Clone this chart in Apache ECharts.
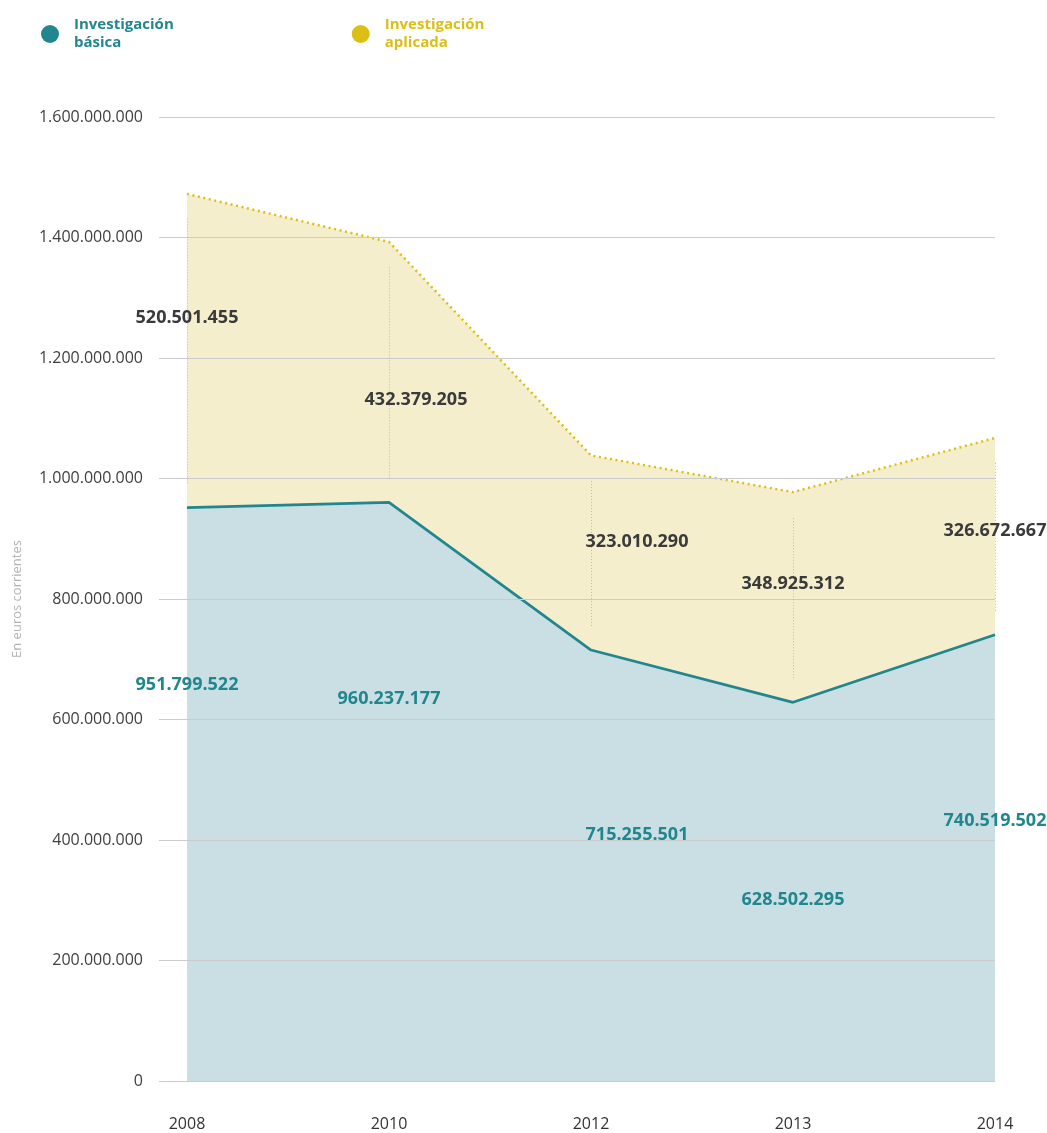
<!DOCTYPE html>
<html>
<head>
<meta charset="utf-8">
<script src="https://cdn.jsdelivr.net/npm/echarts@6/dist/echarts.min.js"></script>
<style>
  html, body { margin: 0; padding: 0; background: #ffffff; }
  #chart { width: 1047px; height: 1133px; }
</style>
</head>
<body>
<div id="chart"></div>
<script>
// Years on the horizontal axis
const years = ['2008', '2010', '2012', '2013', '2014'];
// Funding in current euros
const basica = [951799522, 960237177, 715255501, 628502295, 740519502];
const aplicada = [520501455, 432379205, 323010290, 348925312, 326672667];
// Vertical scale
const yMin = 0;
const yMax = 1600000000;
const yStep = 200000000;

// Label placement relative to each point (pixels)
const basicaLabelShift = [[0, 177], [0, 196], [46, 185], [0, 198], [0, 186]];
const aplicadaLabelShift = [[0, 124], [27, 158], [46, 86], [0, 92], [0, 93]];
// Leader lines stop this far short of each band edge (euros)
const leaderInset = 40000000;

const TEAL = '#22868f';
const YELLOW = '#dcbf14';
const FONT = '"Open Sans", "DejaVu Sans", sans-serif';

function fmt(v) {
  return String(Math.round(v)).replace(/\B(?=(\d{3})+(?!\d))/g, '.');
}

const overlay = years.map((y, i) => [i, basica[i], basica[i] + aplicada[i]]);

const chart = echarts.init(document.getElementById('chart'), null, { renderer: 'canvas' });

chart.setOption({
  animation: false,
  backgroundColor: '#ffffff',
  textStyle: { fontFamily: FONT },
  legend: {
    left: 36,
    top: 11,
    icon: 'circle',
    itemWidth: 18,
    itemHeight: 18,
    itemGap: 178,
    selectedMode: false,
    formatter: name => name.replace(' ', '\n'),
    textStyle: {
      fontFamily: FONT,
      fontSize: 15,
      fontWeight: 'bold',
      lineHeight: 18,
      padding: [0, 0, 0, 10]
    },
    data: [
      { name: 'Investigación básica', textStyle: { color: TEAL } },
      { name: 'Investigación aplicada', textStyle: { color: YELLOW } }
    ]
  },
  grid: [
    { left: 159, right: 52, top: 117, bottom: 52 },
    { left: 187, right: 52, top: 117, bottom: 52 }
  ],
  xAxis: [
    { gridIndex: 0, type: 'value', show: false, min: 0, max: 1 },
    {
      gridIndex: 1,
      type: 'category',
      data: years,
      boundaryGap: false,
      axisLine: { show: false },
      axisTick: { show: false },
      splitLine: { show: false },
      axisLabel: { color: '#333333', fontSize: 16, margin: 35, fontFamily: FONT }
    }
  ],
  yAxis: [
    {
      gridIndex: 0,
      type: 'value',
      min: yMin,
      max: yMax,
      interval: yStep,
      z: 3,
      name: 'En euros corrientes',
      nameLocation: 'middle',
      nameGap: 135,
      nameTextStyle: { color: '#b3b3b3', fontSize: 13, fontFamily: FONT },
      axisLine: { show: false },
      axisTick: { show: false },
      axisLabel: { color: '#404040', fontSize: 16, margin: 16, fontFamily: FONT, formatter: fmt },
      splitLine: { lineStyle: { color: '#cbcbcb', width: 1 } }
    },
    {
      gridIndex: 1,
      type: 'value',
      min: yMin,
      max: yMax,
      interval: yStep,
      show: false,
      splitLine: { show: false }
    }
  ],
  series: [
    {
      name: 'Investigación básica',
      type: 'line',
      xAxisIndex: 1,
      yAxisIndex: 1,
      stack: 'total',
      data: basica,
      symbol: 'none',
      silent: true,
      z: 2,
      itemStyle: { color: TEAL },
      lineStyle: { color: TEAL, width: 2.7 },
      areaStyle: { color: '#cadfe3', opacity: 1 }
    },
    {
      name: 'Investigación aplicada',
      type: 'line',
      xAxisIndex: 1,
      yAxisIndex: 1,
      stack: 'total',
      data: aplicada,
      symbol: 'none',
      silent: true,
      z: 1,
      itemStyle: { color: YELLOW },
      lineStyle: { color: YELLOW, width: 2.5, type: [2, 3.6] },
      areaStyle: { color: '#f5eecd', opacity: 1 }
    },
    {
      // dotted leader lines and value labels for both bands
      type: 'custom',
      xAxisIndex: 1,
      yAxisIndex: 1,
      silent: true,
      z: 10,
      data: overlay,
      renderItem: function (params, api) {
        const i = api.value(0);
        const base = api.value(1);
        const top = api.value(2);
        const p1 = api.coord([i, base + leaderInset]);
        const p2 = api.coord([i, top - leaderInset]);
        const pBase = api.coord([i, base]);
        const pTop = api.coord([i, top]);
        const sa = aplicadaLabelShift[i];
        const sb = basicaLabelShift[i];
        return {
          type: 'group',
          children: [
            {
              type: 'line',
              shape: { x1: Math.round(p1[0]) + 0.5, y1: p1[1], x2: Math.round(p2[0]) + 0.5, y2: p2[1] },
              style: { stroke: '#b9b9b9', lineWidth: 1, lineDash: [1, 2] }
            },
            {
              type: 'text',
              x: pTop[0] + sa[0],
              y: pTop[1] + sa[1],
              style: {
                text: fmt(top - base),
                fill: '#3a3a3a',
                font: 'bold 18px ' + FONT,
                textAlign: 'center',
                textVerticalAlign: 'middle'
              }
            },
            {
              type: 'text',
              x: pBase[0] + sb[0],
              y: pBase[1] + sb[1],
              style: {
                text: fmt(base),
                fill: TEAL,
                font: 'bold 18px ' + FONT,
                textAlign: 'center',
                textVerticalAlign: 'middle'
              }
            }
          ]
        };
      }
    }
  ]
});
</script>
</body>
</html>
